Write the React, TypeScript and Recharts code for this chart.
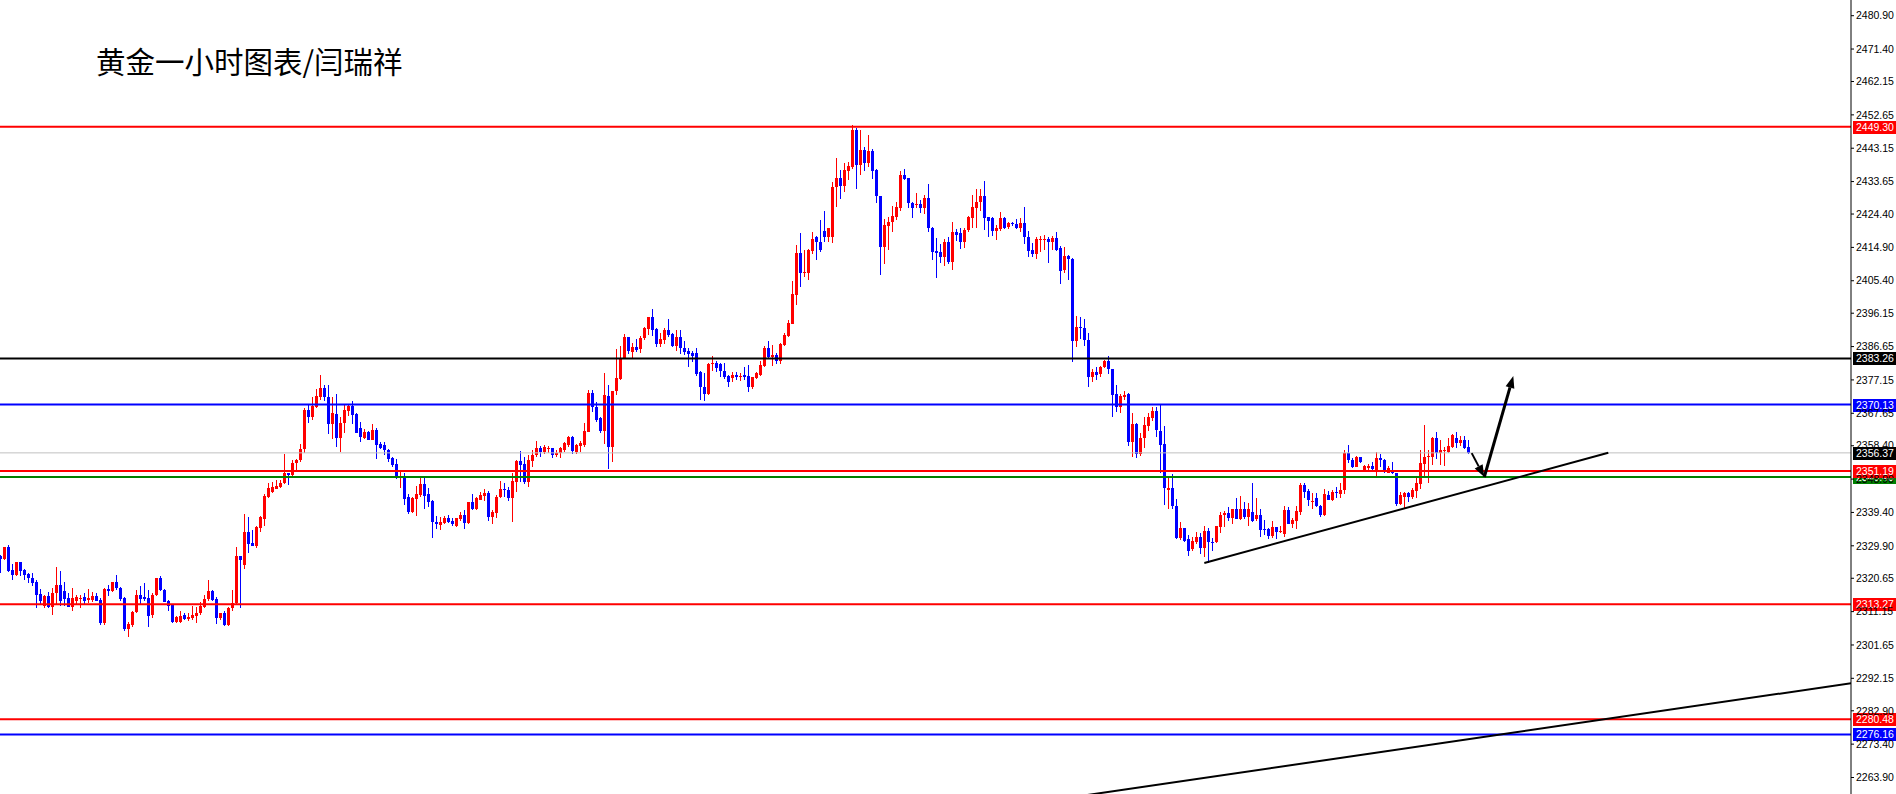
import React from "react";
import { ComposedChart, Bar, XAxis, YAxis, ReferenceLine } from "recharts";

// XAUUSD H1 candles (red = up, blue = down)
const opens = [
  2327.0, 2326.0, 2329.5, 2323.0, 2321.6, 2325.3, 2323.0, 2321.9, 2320.6, 2319.7,
  2316.2, 2312.8, 2315.6, 2312.6, 2316.4, 2318.7, 2317.1, 2315.0, 2312.6, 2314.3,
  2314.8, 2315.2, 2314.4, 2314.5, 2315.6, 2314.5, 2307.8, 2317.7, 2317.1, 2319.6,
  2318.0, 2315.1, 2306.1, 2307.4, 2311.0, 2315.9, 2315.2, 2314.9, 2310.2, 2315.9,
  2320.6, 2317.3, 2314.3, 2313.0, 2308.3, 2308.3, 2310.2, 2309.0, 2309.2, 2310.0,
  2310.7, 2312.4, 2314.7, 2317.1, 2314.7, 2309.3, 2310.7, 2307.4, 2312.1, 2313.7,
  2327.0, 2324.4, 2333.7, 2330.8, 2329.9, 2334.9, 2337.5, 2343.9, 2345.2, 2346.2,
  2346.7, 2347.7, 2350.6, 2350.1, 2353.4, 2354.2, 2357.4, 2368.6, 2366.7, 2369.5,
  2372.4, 2374.8, 2372.2, 2364.6, 2367.4, 2360.5, 2364.8, 2368.4, 2369.7, 2367.4,
  2363.5, 2360.7, 2362.4, 2360.0, 2362.9, 2358.9, 2358.6, 2357.2, 2354.9, 2353.2,
  2349.1, 2349.8, 2343.9, 2339.6, 2343.2, 2344.4, 2347.5, 2344.7, 2342.8, 2336.8,
  2335.8, 2336.5, 2337.7, 2337.1, 2335.4, 2337.5, 2338.7, 2336.5, 2342.4, 2340.3,
  2343.0, 2344.1, 2345.0, 2338.2, 2339.3, 2343.7, 2346.1, 2345.8, 2343.6, 2348.2,
  2354.1, 2353.2, 2348.2, 2354.1, 2355.8, 2357.8, 2356.7, 2357.5, 2357.9, 2355.8,
  2356.2, 2357.2, 2358.6, 2360.8, 2356.7, 2358.4, 2358.6, 2362.4, 2373.3, 2369.5,
  2366.2, 2362.7, 2372.6, 2358.1, 2374.0, 2377.5, 2383.3, 2389.3, 2385.2, 2386.4,
  2385.9, 2389.0, 2391.6, 2395.0, 2391.6, 2387.4, 2388.5, 2391.4, 2390.2, 2386.8,
  2389.3, 2386.2, 2385.5, 2384.9, 2384.7, 2379.4, 2375.2, 2373.2, 2381.7, 2381.9,
  2381.7, 2379.8, 2378.3, 2377.6, 2378.6, 2377.9, 2378.6, 2378.3, 2375.0, 2377.8,
  2378.6, 2381.1, 2386.2, 2383.8, 2384.3, 2382.4, 2387.1, 2389.7, 2393.1, 2401.3,
  2413.2, 2407.7, 2407.7, 2414.0, 2417.8, 2416.5, 2419.7, 2418.0, 2418.0, 2432.0,
  2434.6, 2432.4, 2436.7, 2437.9, 2448.3, 2438.4, 2442.7, 2439.0, 2442.5, 2437.0,
  2429.5, 2415.1, 2421.1, 2422.0, 2423.6, 2426.0, 2435.5, 2434.6, 2427.6, 2427.0,
  2427.3, 2426.0, 2428.9, 2420.3, 2414.0, 2413.7, 2412.3, 2416.5, 2410.6, 2419.4,
  2418.9, 2416.3, 2419.9, 2423.2, 2426.0, 2427.7, 2429.5, 2423.5, 2423.2, 2419.7,
  2420.0, 2423.2, 2420.6, 2421.9, 2421.6, 2420.3, 2421.9, 2418.0, 2414.2, 2413.0,
  2416.9, 2416.9, 2417.2, 2416.5, 2417.5, 2414.6, 2408.5, 2412.5, 2411.5, 2388.3,
  2392.3, 2391.8, 2388.5, 2377.9, 2379.5, 2378.8, 2380.7, 2382.4, 2380.2, 2373.1,
  2369.5, 2372.2, 2373.1, 2359.6, 2364.6, 2356.1, 2360.5, 2364.0, 2366.2, 2368.4,
  2362.7, 2358.9, 2345.9, 2346.3, 2341.3, 2332.0, 2334.9, 2331.7, 2328.9, 2331.1,
  2332.3, 2329.2, 2334.2, 2331.1, 2331.1, 2335.2, 2338.7, 2339.2, 2337.7, 2340.3,
  2337.5, 2340.3, 2338.2, 2339.6, 2337.4, 2338.7, 2334.6, 2334.6, 2332.7, 2335.2,
  2333.9, 2333.3, 2340.1, 2336.1, 2337.1, 2339.6, 2347.2, 2345.6, 2342.5, 2343.4,
  2341.3, 2338.7, 2344.4, 2342.9, 2345.3, 2344.7, 2345.8, 2356.4, 2354.4, 2352.4,
  2355.1, 2351.5, 2352.0, 2352.6, 2351.0, 2354.8, 2354.4, 2350.7, 2351.5, 2350.5,
  2341.8, 2343.9, 2345.0, 2343.9, 2345.6, 2347.5, 2353.2, 2355.1, 2355.3, 2360.5,
  2356.4, 2357.0, 2356.7, 2358.1, 2360.5, 2359.1, 2360.0, 2358.1,
];
const highs = [
  2327.3, 2329.7, 2330.1, 2324.7, 2325.3, 2325.3, 2323.2, 2322.1, 2322.1, 2320.2,
  2317.5, 2315.9, 2316.8, 2317.8, 2324.0, 2322.7, 2319.7, 2316.4, 2317.8, 2315.9,
  2315.9, 2316.4, 2317.5, 2316.8, 2316.4, 2315.0, 2318.0, 2318.6, 2319.6, 2321.6,
  2318.2, 2315.4, 2308.3, 2311.4, 2317.3, 2318.5, 2319.2, 2317.3, 2316.4, 2320.6,
  2321.3, 2317.5, 2314.5, 2313.0, 2309.9, 2311.4, 2310.7, 2310.7, 2312.8, 2312.6,
  2314.0, 2315.9, 2320.2, 2317.3, 2315.2, 2310.9, 2311.2, 2312.6, 2317.3, 2329.7,
  2327.0, 2339.0, 2338.2, 2334.4, 2335.4, 2338.4, 2344.6, 2347.7, 2348.0, 2348.7,
  2348.7, 2356.1, 2350.7, 2354.3, 2354.5, 2358.9, 2369.1, 2370.0, 2372.2, 2374.5,
  2378.6, 2375.7, 2375.7, 2372.2, 2373.1, 2366.5, 2370.0, 2370.3, 2371.1, 2367.6,
  2365.3, 2363.1, 2362.6, 2364.6, 2363.4, 2359.6, 2359.6, 2357.4, 2355.3, 2354.5,
  2351.5, 2350.5, 2344.7, 2343.9, 2346.9, 2349.8, 2349.6, 2346.3, 2342.9, 2338.4,
  2338.2, 2338.4, 2338.7, 2337.7, 2337.7, 2339.6, 2340.1, 2342.5, 2344.7, 2343.9,
  2345.1, 2346.0, 2345.6, 2340.1, 2344.3, 2348.3, 2347.9, 2346.6, 2350.5, 2354.3,
  2357.0, 2355.3, 2355.8, 2357.2, 2359.8, 2358.3, 2358.6, 2358.4, 2357.9, 2357.2,
  2358.1, 2359.6, 2361.2, 2361.2, 2358.9, 2359.8, 2364.8, 2374.3, 2374.3, 2370.9,
  2366.7, 2379.0, 2375.7, 2374.1, 2385.9, 2386.8, 2390.2, 2389.3, 2387.8, 2388.7,
  2389.7, 2392.3, 2395.2, 2397.3, 2391.9, 2390.6, 2392.0, 2394.4, 2390.4, 2391.4,
  2391.4, 2388.1, 2386.2, 2385.5, 2386.2, 2379.8, 2379.0, 2382.1, 2384.0, 2382.6,
  2382.1, 2381.9, 2378.6, 2379.5, 2379.5, 2379.0, 2380.9, 2381.4, 2378.1, 2379.5,
  2382.6, 2386.8, 2388.1, 2387.1, 2384.9, 2387.8, 2390.4, 2394.2, 2405.4, 2415.6,
  2418.9, 2414.2, 2414.4, 2419.4, 2418.2, 2422.7, 2425.4, 2420.5, 2433.6, 2440.3,
  2437.0, 2439.0, 2439.3, 2449.8, 2448.8, 2448.3, 2443.6, 2446.9, 2442.8, 2437.1,
  2429.5, 2422.9, 2423.7, 2426.7, 2427.9, 2436.8, 2437.1, 2434.6, 2427.9, 2430.3,
  2428.4, 2429.8, 2433.0, 2420.8, 2417.5, 2415.9, 2417.2, 2418.0, 2422.2, 2420.0,
  2420.3, 2420.3, 2423.9, 2429.8, 2431.5, 2431.5, 2433.9, 2423.7, 2423.7, 2421.3,
  2425.1, 2423.5, 2422.2, 2422.2, 2422.9, 2423.2, 2426.5, 2419.7, 2416.2, 2417.9,
  2418.1, 2418.4, 2417.9, 2418.1, 2419.4, 2415.3, 2414.9, 2412.8, 2411.8, 2395.4,
  2395.2, 2394.4, 2390.6, 2380.2, 2380.9, 2381.1, 2382.8, 2384.0, 2380.4, 2375.7,
  2373.1, 2374.1, 2373.5, 2367.6, 2365.0, 2362.1, 2366.7, 2367.8, 2369.4, 2369.4,
  2370.3, 2364.0, 2349.6, 2350.4, 2343.1, 2336.8, 2334.9, 2333.0, 2332.5, 2333.9,
  2333.6, 2335.5, 2334.9, 2332.0, 2335.6, 2339.6, 2339.9, 2340.9, 2340.3, 2343.4,
  2344.1, 2342.5, 2342.0, 2347.9, 2343.4, 2340.3, 2337.2, 2334.9, 2337.1, 2335.2,
  2335.4, 2341.1, 2340.9, 2337.7, 2341.2, 2347.7, 2347.9, 2346.0, 2344.8, 2345.0,
  2341.5, 2346.0, 2345.6, 2345.8, 2346.7, 2347.9, 2357.2, 2358.6, 2354.8, 2355.5,
  2355.3, 2352.9, 2353.2, 2353.9, 2356.7, 2356.1, 2354.5, 2352.5, 2353.9, 2350.7,
  2345.3, 2345.3, 2345.3, 2346.3, 2349.1, 2357.2, 2364.3, 2357.2, 2361.0, 2362.4,
  2360.0, 2358.1, 2360.5, 2361.8, 2362.4, 2361.2, 2361.2, 2359.9,
];
const lows = [
  2322.3, 2325.9, 2322.4, 2320.0, 2321.3, 2321.3, 2320.2, 2319.2, 2318.3, 2312.1,
  2312.8, 2312.1, 2312.1, 2310.2, 2313.5, 2312.6, 2312.8, 2312.4, 2311.2, 2313.0,
  2312.1, 2313.0, 2313.5, 2314.0, 2314.0, 2307.4, 2307.4, 2315.6, 2316.8, 2317.3,
  2314.3, 2305.7, 2304.0, 2306.9, 2310.7, 2313.0, 2314.0, 2306.9, 2309.3, 2315.6,
  2317.0, 2313.7, 2311.4, 2308.0, 2308.0, 2308.0, 2308.8, 2308.3, 2308.8, 2308.0,
  2310.2, 2312.1, 2314.3, 2314.3, 2307.6, 2309.0, 2306.9, 2307.1, 2311.4, 2313.5,
  2312.1, 2323.2, 2327.9, 2329.7, 2329.2, 2333.7, 2335.6, 2343.4, 2345.0, 2346.0,
  2346.3, 2347.5, 2347.2, 2349.4, 2351.5, 2353.9, 2356.3, 2365.0, 2365.7, 2369.1,
  2371.6, 2371.0, 2361.8, 2360.2, 2358.0, 2356.4, 2362.1, 2366.9, 2364.6, 2361.9,
  2359.6, 2360.2, 2359.9, 2359.9, 2354.7, 2357.7, 2356.0, 2353.6, 2352.4, 2348.8,
  2346.3, 2341.5, 2338.9, 2339.3, 2338.4, 2343.9, 2340.4, 2340.9, 2332.2, 2334.6,
  2334.4, 2336.1, 2336.3, 2335.4, 2335.2, 2337.1, 2334.6, 2336.3, 2340.1, 2340.1,
  2342.8, 2342.5, 2337.1, 2336.1, 2337.7, 2343.4, 2343.9, 2342.5, 2336.5, 2345.3,
  2348.2, 2347.5, 2346.6, 2352.3, 2355.3, 2355.1, 2356.1, 2356.3, 2355.1, 2355.1,
  2355.1, 2356.7, 2358.1, 2356.1, 2356.1, 2356.7, 2358.1, 2362.4, 2368.1, 2365.3,
  2362.1, 2358.9, 2351.7, 2353.9, 2372.9, 2377.1, 2383.0, 2384.5, 2383.6, 2384.9,
  2384.9, 2388.5, 2390.0, 2389.5, 2386.5, 2386.5, 2387.4, 2389.3, 2386.5, 2385.5,
  2384.5, 2384.0, 2380.9, 2382.4, 2378.1, 2371.6, 2371.0, 2372.9, 2379.8, 2379.5,
  2378.1, 2377.3, 2375.3, 2376.7, 2377.3, 2376.7, 2377.3, 2373.8, 2374.8, 2377.6,
  2378.3, 2380.9, 2383.0, 2381.1, 2381.7, 2381.7, 2386.8, 2389.3, 2393.1, 2398.5,
  2403.5, 2406.4, 2405.6, 2413.2, 2411.5, 2413.7, 2416.5, 2416.5, 2416.3, 2426.3,
  2428.6, 2430.8, 2434.1, 2437.4, 2431.5, 2435.5, 2436.8, 2437.9, 2434.3, 2427.3,
  2407.1, 2410.2, 2414.4, 2419.4, 2422.7, 2425.4, 2433.9, 2426.0, 2423.2, 2426.0,
  2424.8, 2424.4, 2419.4, 2411.5, 2406.1, 2410.6, 2409.6, 2410.4, 2408.5, 2416.5,
  2414.4, 2414.6, 2419.4, 2420.3, 2420.3, 2425.1, 2419.9, 2418.0, 2418.2, 2417.0,
  2419.7, 2420.0, 2420.3, 2421.0, 2420.0, 2419.1, 2415.9, 2412.3, 2412.1, 2411.5,
  2413.4, 2414.2, 2410.4, 2414.2, 2414.0, 2404.5, 2407.5, 2405.6, 2382.1, 2386.6,
  2389.0, 2386.6, 2375.1, 2376.6, 2377.3, 2377.9, 2380.4, 2378.8, 2366.7, 2368.1,
  2367.8, 2371.4, 2358.3, 2355.1, 2355.1, 2355.5, 2358.0, 2362.7, 2365.5, 2360.8,
  2350.7, 2341.5, 2340.6, 2340.3, 2331.8, 2331.8, 2330.8, 2327.0, 2328.5, 2330.6,
  2327.6, 2326.8, 2324.9, 2328.2, 2330.8, 2333.5, 2335.2, 2336.8, 2336.1, 2337.3,
  2337.3, 2337.7, 2335.5, 2336.8, 2336.8, 2332.3, 2333.0, 2331.8, 2332.3, 2331.8,
  2333.5, 2332.3, 2336.1, 2334.9, 2334.6, 2338.7, 2343.7, 2341.1, 2340.3, 2341.1,
  2338.2, 2338.2, 2342.9, 2342.8, 2343.7, 2343.7, 2344.7, 2353.4, 2351.9, 2352.3,
  2353.6, 2351.3, 2351.0, 2351.3, 2349.4, 2352.5, 2350.5, 2350.4, 2350.4, 2341.3,
  2341.5, 2340.6, 2342.5, 2343.1, 2343.4, 2346.0, 2349.6, 2347.9, 2352.9, 2354.8,
  2352.9, 2352.6, 2356.2, 2357.9, 2357.9, 2358.3, 2357.4, 2355.8,
];
const closes = [
  2326.1, 2329.5, 2322.8, 2321.6, 2325.3, 2322.8, 2321.6, 2320.6, 2319.4, 2315.9,
  2314.3, 2315.6, 2312.6, 2316.4, 2318.7, 2314.3, 2314.7, 2312.6, 2315.0, 2315.2,
  2315.1, 2314.3, 2314.9, 2315.6, 2314.3, 2307.8, 2317.7, 2317.1, 2319.6, 2317.8,
  2314.8, 2306.1, 2307.6, 2311.1, 2315.9, 2314.7, 2314.7, 2309.9, 2315.9, 2320.6,
  2317.3, 2314.0, 2312.8, 2308.3, 2309.5, 2309.9, 2309.0, 2309.7, 2310.2, 2310.9,
  2312.8, 2314.8, 2317.1, 2314.5, 2309.3, 2310.7, 2307.4, 2312.1, 2313.7, 2327.0,
  2325.9, 2333.7, 2330.4, 2329.9, 2335.2, 2338.0, 2344.2, 2346.4, 2346.7, 2347.0,
  2347.9, 2350.6, 2350.1, 2353.6, 2354.2, 2357.4, 2368.6, 2366.7, 2369.7, 2372.6,
  2374.8, 2372.2, 2364.6, 2367.8, 2360.5, 2365.0, 2368.6, 2369.7, 2367.2, 2362.1,
  2360.8, 2362.2, 2360.0, 2362.9, 2358.6, 2357.9, 2357.2, 2354.7, 2352.9, 2349.1,
  2349.8, 2343.2, 2339.6, 2343.4, 2344.7, 2347.5, 2344.2, 2342.5, 2336.8, 2336.1,
  2336.8, 2337.7, 2336.8, 2336.1, 2337.7, 2338.7, 2336.5, 2342.4, 2340.3, 2343.4,
  2344.4, 2345.0, 2338.2, 2339.6, 2343.9, 2346.1, 2345.8, 2343.6, 2348.4, 2354.1,
  2352.9, 2348.2, 2354.3, 2355.9, 2357.8, 2356.7, 2358.1, 2357.9, 2355.8, 2356.4,
  2357.7, 2359.1, 2360.8, 2356.9, 2358.6, 2359.1, 2362.6, 2373.3, 2369.3, 2365.7,
  2362.7, 2372.9, 2358.1, 2374.1, 2377.8, 2383.3, 2389.3, 2385.5, 2386.4, 2385.7,
  2389.0, 2391.8, 2395.0, 2391.4, 2387.4, 2388.7, 2391.4, 2390.0, 2386.8, 2389.3,
  2386.2, 2385.2, 2384.5, 2384.0, 2378.9, 2375.0, 2373.2, 2381.7, 2382.1, 2380.5,
  2379.8, 2378.1, 2376.7, 2378.6, 2377.9, 2378.3, 2377.9, 2375.0, 2377.9, 2379.0,
  2381.4, 2386.2, 2383.8, 2384.3, 2382.4, 2387.4, 2390.0, 2393.5, 2401.6, 2413.2,
  2407.7, 2408.0, 2414.2, 2417.2, 2416.3, 2414.2, 2418.0, 2420.3, 2432.0, 2434.6,
  2432.4, 2437.0, 2438.1, 2448.3, 2438.4, 2442.7, 2439.0, 2442.5, 2436.8, 2429.4,
  2415.1, 2421.3, 2422.2, 2423.9, 2426.3, 2435.5, 2434.3, 2427.6, 2426.0, 2427.3,
  2426.0, 2428.9, 2420.3, 2413.7, 2413.4, 2412.3, 2416.5, 2410.6, 2419.4, 2418.4,
  2416.3, 2419.9, 2423.5, 2426.3, 2427.9, 2429.5, 2423.2, 2422.5, 2419.7, 2420.5,
  2423.2, 2420.3, 2421.9, 2421.6, 2420.3, 2421.9, 2417.8, 2414.0, 2413.0, 2417.2,
  2417.2, 2417.2, 2416.5, 2417.5, 2414.3, 2408.3, 2412.5, 2411.5, 2388.3, 2392.1,
  2391.8, 2388.5, 2377.9, 2379.5, 2378.6, 2380.9, 2382.4, 2380.2, 2372.9, 2369.5,
  2372.6, 2372.9, 2359.6, 2364.6, 2356.1, 2360.5, 2364.3, 2366.7, 2368.4, 2362.9,
  2358.6, 2346.3, 2346.3, 2341.1, 2332.0, 2334.9, 2331.4, 2328.5, 2331.4, 2332.3,
  2329.2, 2334.2, 2331.1, 2330.8, 2335.4, 2338.7, 2339.2, 2337.7, 2340.3, 2337.5,
  2340.3, 2338.0, 2340.3, 2337.1, 2338.7, 2334.4, 2334.4, 2332.7, 2335.2, 2333.9,
  2334.2, 2340.1, 2336.1, 2337.3, 2339.9, 2347.2, 2345.3, 2342.9, 2342.8, 2341.1,
  2338.7, 2344.7, 2342.9, 2345.3, 2344.9, 2345.8, 2356.4, 2354.2, 2352.4, 2355.3,
  2353.9, 2352.5, 2352.6, 2351.7, 2354.8, 2354.2, 2351.0, 2352.0, 2350.5, 2341.8,
  2344.4, 2345.0, 2343.9, 2345.8, 2347.7, 2353.6, 2355.3, 2355.5, 2360.5, 2356.4,
  2357.2, 2357.2, 2358.3, 2361.5, 2359.1, 2360.0, 2357.7, 2356.4,
];

const priceTicks = [
  2480.9, 2471.4, 2462.15, 2452.65, 2443.15, 2433.65, 2424.4, 2414.9, 2405.4, 2396.15,
  2386.65, 2377.15, 2367.65, 2358.4, 2348.9, 2339.4, 2329.9, 2320.65, 2311.15, 2301.65,
  2292.15, 2282.9, 2273.4, 2263.9,
];

// horizontal levels drawn on the chart, with their tag on the price scale
const levelPrices = [2449.3, 2383.26, 2370.13, 2356.37, 2349.48, 2351.19, 2313.27, 2280.48, 2276.16];
const levelColors = ["#ff0000", "#000000", "#0000ff", "#c0c0c0", "#008000", "#ff0000", "#ff0000", "#ff0000", "#0000ff"];
const levelTagColors = ["#ff0000", "#000000", "#0000ff", "#000000", "#008000", "#ff0000", "#ff0000", "#ff0000", "#0000ff"];

// trend lines: [candle index, price] pairs
const trendLines = [
  [[300.9, 2325.0], [401.9, 2356.4]],
  [[250, 2255.3], [470, 2292.0]],
];
const arrows = [
  { pts: [[367.75, 2356.3], [370.9, 2349.5]], w: 2 },
  { pts: [[370.9, 2349.5], [378.15, 2378.3]], w: 3 },
];

const data = opens.map((o, i) => ({
  i,
  o,
  h: highs[i],
  l: lows[i],
  c: closes[i],
  range: [lows[i], highs[i]],
}));

const Candle = (props: any) => {
  const { x, y, width, height, payload } = props;
  if (x == null || !payload) return null;
  const { o, h, l, c } = payload;
  const k = h > l ? height / (h - l) : 0;
  const yAt = (p: number) => y + (h - p) * k;
  const cx = Math.round(x + width / 2 - 0.5);
  const color = c >= o ? "#ff0000" : "#0000ff";
  const top = Math.round(yAt(Math.max(o, c)));
  const bot = Math.round(yAt(Math.min(o, c)));
  return (
    <g>
      <rect x={cx} y={Math.round(y)} width={1} height={Math.max(1, Math.round(height))} fill={color} />
      <rect x={cx - 1} y={top} width={3} height={Math.max(1, bot - top)} fill={color} />
    </g>
  );
};

const AxisTag = (props: any) => {
  const { viewBox, text, fill } = props;
  if (!viewBox) return null;
  const x = viewBox.x + viewBox.width + 2;
  const y = Math.round(viewBox.y);
  return (
    <g>
      <rect x={x} y={y - 6} width={44} height={13} fill={fill} />
      <text x={x + 3} y={y + 4} fill="#ffffff" fontSize={10.5} fontFamily="Liberation Sans, Arial">
        {text}
      </text>
    </g>
  );
};

const arrowShape = (w: number) => (p: any) => {
  const { x1, y1, x2, y2 } = p;
  if (x1 == null) return null;
  const ang = Math.atan2(y2 - y1, x2 - x1);
  const len = 12;
  const half = 4.5;
  const bx = x2 - len * Math.cos(ang);
  const by = y2 - len * Math.sin(ang);
  const nx = -Math.sin(ang) * half;
  const ny = Math.cos(ang) * half;
  return (
    <g>
      <line x1={x1} y1={y1} x2={bx} y2={by} stroke="#000" strokeWidth={w} />
      <polygon points={`${x2},${y2} ${bx + nx},${by + ny} ${bx - nx},${by - ny}`} fill="#000" />
    </g>
  );
};

export default function App() {
  return (
    <div style={{ position: "relative", width: 1896, height: 794, background: "#fff" }}>
      <style>{`body{margin:0;background:#fff}`}</style>
      <ComposedChart width={1896} height={794} data={data} margin={{ top: 0, right: 0, bottom: 0, left: 0 }}>
        <XAxis dataKey="i" type="number" domain={[-0.175, 462.575]} allowDataOverflow hide />
        <YAxis
          orientation="right"
          width={45}
          domain={[2259.2, 2485.37]}
          allowDataOverflow
          ticks={priceTicks}
          interval={0}
          tickFormatter={(v: number) => v.toFixed(2)}
          tick={{ fill: "#000", fontSize: 10.5, fontFamily: "Liberation Sans, Arial" }}
          tickLine={{ stroke: "#000" }}
          axisLine={{ stroke: "#000" }}
          tickSize={3}
          tickMargin={2}
        />
        {levelPrices.map((p, k) => (
          <ReferenceLine
            key={"lv" + k}
            y={p}
            stroke={levelColors[k]}
            strokeWidth={levelColors[k] === "#c0c0c0" ? 1 : 2}
            label={<AxisTag text={p.toFixed(2)} fill={levelTagColors[k]} />}
          />
        ))}
        {trendLines.map((seg, k) => (
          <ReferenceLine
            key={"tl" + k}
            segment={[{ x: seg[0][0], y: seg[0][1] }, { x: seg[1][0], y: seg[1][1] }]}
            stroke="#000"
            strokeWidth={2}
            ifOverflow="hidden"
          />
        ))}
        <Bar dataKey="range" shape={Candle} barSize={3} isAnimationActive={false} />
        {arrows.map((a, k) => (
          <ReferenceLine
            key={"ar" + k}
            segment={[{ x: a.pts[0][0], y: a.pts[0][1] }, { x: a.pts[1][0], y: a.pts[1][1] }]}
            shape={arrowShape(a.w)}
          />
        ))}
      </ComposedChart>
      <div
        style={{
          position: "absolute",
          left: 96,
          top: 46,
          fontSize: 29.5,
          lineHeight: "29.5px",
          fontFamily: '"Noto Sans CJK SC", sans-serif',
          color: "#000",
          whiteSpace: "nowrap",
        }}
      >
        黄金一小时图表/闫瑞祥
      </div>
    </div>
  );
}
